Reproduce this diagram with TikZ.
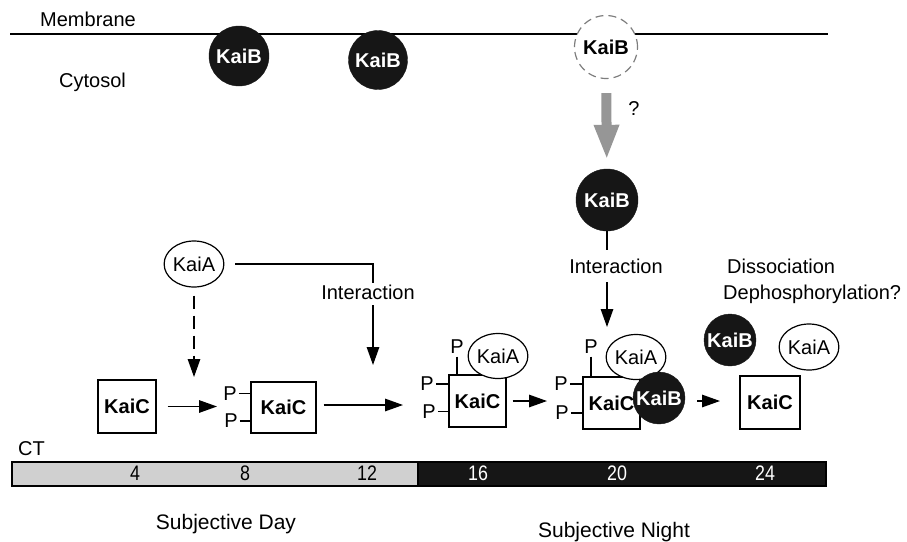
\documentclass[tikz,border=0pt]{standalone}
\usepackage{fontspec}
\setmainfont{Liberation Sans}
\newfontfamily\narrowfont[FakeStretch=0.85]{Liberation Sans}
\usetikzlibrary{arrows.meta,shapes.geometric}
\definecolor{kblack}{RGB}{22,22,22}
\definecolor{daygray}{RGB}{208,208,208}
\definecolor{arrowgray}{RGB}{150,150,150}
\definecolor{dashgray}{RGB}{125,125,125}
\begin{document}
\begin{tikzpicture}[x=1pt,y=-1pt,
  txt/.style={font=\fontsize{20}{22}\selectfont, inner sep=0pt},
  num/.style={font=\narrowfont\fontsize{21}{22}\selectfont, inner sep=0pt},
  kaib/.style={circle, fill=kblack, draw=kblack, minimum size=60pt, inner sep=0pt, text=white, font=\bfseries\fontsize{20}{22}\selectfont},
  kaibd/.style={circle, fill=white, draw=dashgray, line width=1.2pt, dash pattern=on 8pt off 5pt, minimum size=63pt, inner sep=0pt, font=\bfseries\fontsize{20}{22}\selectfont},
  kaia/.style={ellipse, draw, fill=white, line width=1.2pt, minimum width=54pt, minimum height=46pt, inner sep=0pt, font=\fontsize{20}{22}\selectfont},
  kaic/.style={rectangle, draw, fill=white, line width=1.4pt, minimum width=58pt, minimum height=53pt, inner sep=0pt, font=\bfseries\fontsize{20}{22}\selectfont},
  pl/.style={font=\fontsize{20}{22}\selectfont, inner sep=0pt},
  tick/.style={line width=1.3pt},
  arr/.style={-{Triangle[length=18pt,width=12.5pt]}, line width=1.4pt},
  grayarr/.style={-{Triangle[length=35pt,width=23pt]}, line width=10pt, draw=arrowgray},
  bar/.style={draw, line width=1.2pt, minimum height=24pt, inner sep=0pt}
]
\useasboundingbox (0,0) rectangle (907,541);

% membrane
\coordinate (m1) at (10,34);
\coordinate (m2) at (828,34);
\draw[line width=1.4pt] (m1) -- (m2);
\node[txt, anchor=base west] (mem) at (40,26) {Membrane};
\node[txt, anchor=base west] (cyt) at (59,87) {Cytosol};

\node[kaib] (b1) at (239,56) {KaiB};
\node[kaib, minimum size=59pt] (b2) at (378,60) {KaiB};
\node[kaibd] (b3) at (606,47) {KaiB};
\node[kaib, minimum size=62pt] (b4) at (607,200) {KaiB};
\draw[grayarr, shorten <=14pt, shorten >=9pt] (b3) -- (b4);
\node[txt] (q) at (634,109) {?};

% interaction 2
\node[txt, anchor=base] (int2) at (616,273) {Interaction};
\coordinate (c2a) at (607,250);
\coordinate (c2b) at (607,282);
\coordinate (c2t) at (607,327);
\draw[line width=1.4pt] (b4) -- (c2a);
\draw[arr] (c2b) -- (c2t);

% KaiA 1 and interaction 1
\node[kaia] (a1) at (194,264) {KaiA};
\node[txt, anchor=base] (int1) at (368,299) {Interaction};
\coordinate (c1c) at (373,283);
\coordinate (c1d) at (373,305);
\coordinate (c1t) at (373,365);
\draw[line width=1.4pt, shorten <=11pt] (a1.east) -| (c1c);
\draw[arr] (c1d) -- (c1t);
\coordinate (d1t) at (194,377);
\draw[arr, dash pattern=on 13pt off 7pt, shorten <=8pt] (a1) -- (d1t);

% KaiC 1
\node[kaic] (k1) at (127,406.5) {KaiC};
\coordinate (e1) at (217,406.5);
\draw[arr, shorten <=11pt] (k1.east) -- (e1);

% KaiC 2
\node[kaic, minimum width=65pt, minimum height=51pt] (k2) at (283.5,407.5) {KaiC};
\node[pl] (p21) at (230,393.5) {P};
\node[pl] (p22) at (231,421) {P};
\draw[tick, shorten <=2pt] (p21.east) -- (k2.west |- p21);
\draw[tick, shorten <=2pt] (p22.east) -- (k2.west |- p22);
\coordinate (e2) at (403,405);
\draw[arr, shorten <=7pt] (k2.east |- e2) -- (e2);

% KaiC 3 complex
\node[kaic, minimum width=57pt, minimum height=52pt] (k3) at (477.5,401) {KaiC};
\node[kaia, minimum width=52pt, minimum height=45pt] (a3) at (498,356) {KaiA};
\node[pl] (p31) at (457,346.5) {P};
\node[pl] (p32) at (427,384) {P};
\node[pl] (p33) at (429,411.5) {P};
\draw[tick, shorten <=3pt] (p31.south) -- (k3.north -| p31);
\draw[tick, shorten <=2pt] (p32.east) -- (k3.west |- p32);
\draw[tick, shorten <=2pt] (p33.east) -- (k3.west |- p33);
\coordinate (e3) at (547,401);
\draw[arr, shorten <=6pt] (k3.east |- e3) -- (e3);

% KaiC 4 complex
\node[kaic, minimum width=57pt, minimum height=52pt] (k4) at (611.5,403) {KaiC};
\node[kaia, minimum width=53pt, minimum height=45pt] (a4) at (636,357) {KaiA};
\node[kaib, minimum size=52pt] (bk4) at (659,398) {KaiB};
\node[pl] (p41) at (591,346.5) {P};
\node[pl] (p42) at (561,384) {P};
\node[pl] (p43) at (562,413) {P};
\draw[tick, shorten <=3pt] (p41.south) -- (k4.north -| p41);
\draw[tick, shorten <=2pt] (p42.east) -- (k4.west |- p42);
\draw[tick, shorten <=2pt] (p43.east) -- (k4.west |- p43);
\coordinate (e4) at (720,401);
\draw[arr, shorten <=12pt] (bk4.east |- e4) -- (e4);

% dissociated
\node[txt, anchor=base west] (dis) at (727,273) {Dissociation};
\node[txt, anchor=base west] (dep) at (723,299) {Dephosphorylation?};
\node[kaib, minimum size=52pt] (b5) at (730,340) {KaiB};
\node[kaia] (a5) at (809,347) {KaiA};
\node[kaic, minimum width=60pt] (k5) at (770,402.5) {KaiC};

% time bar
\node[txt, anchor=base west] (ct) at (18,455) {CT};
\node[bar, fill=daygray, minimum width=406pt] (day) at (215,474) {};
\node[bar, fill=kblack, minimum width=408pt] (night) at (622,474) {};
\node[num] (t4) at (135,473) {4};
\node[num] (t8) at (245,473) {8};
\node[num] (t12) at (367,473) {12};
\node[num, text=white] (t16) at (478,473) {16};
\node[num, text=white] (t20) at (617,473) {20};
\node[num, text=white] (t24) at (765,473) {24};
\node[txt, font=\fontsize{21}{22}\selectfont, anchor=base] (sday) at (226,529) {Subjective Day};
\node[txt, font=\fontsize{21}{22}\selectfont, anchor=base] (snight) at (614,537) {Subjective Night};
\end{tikzpicture}
\end{document}
